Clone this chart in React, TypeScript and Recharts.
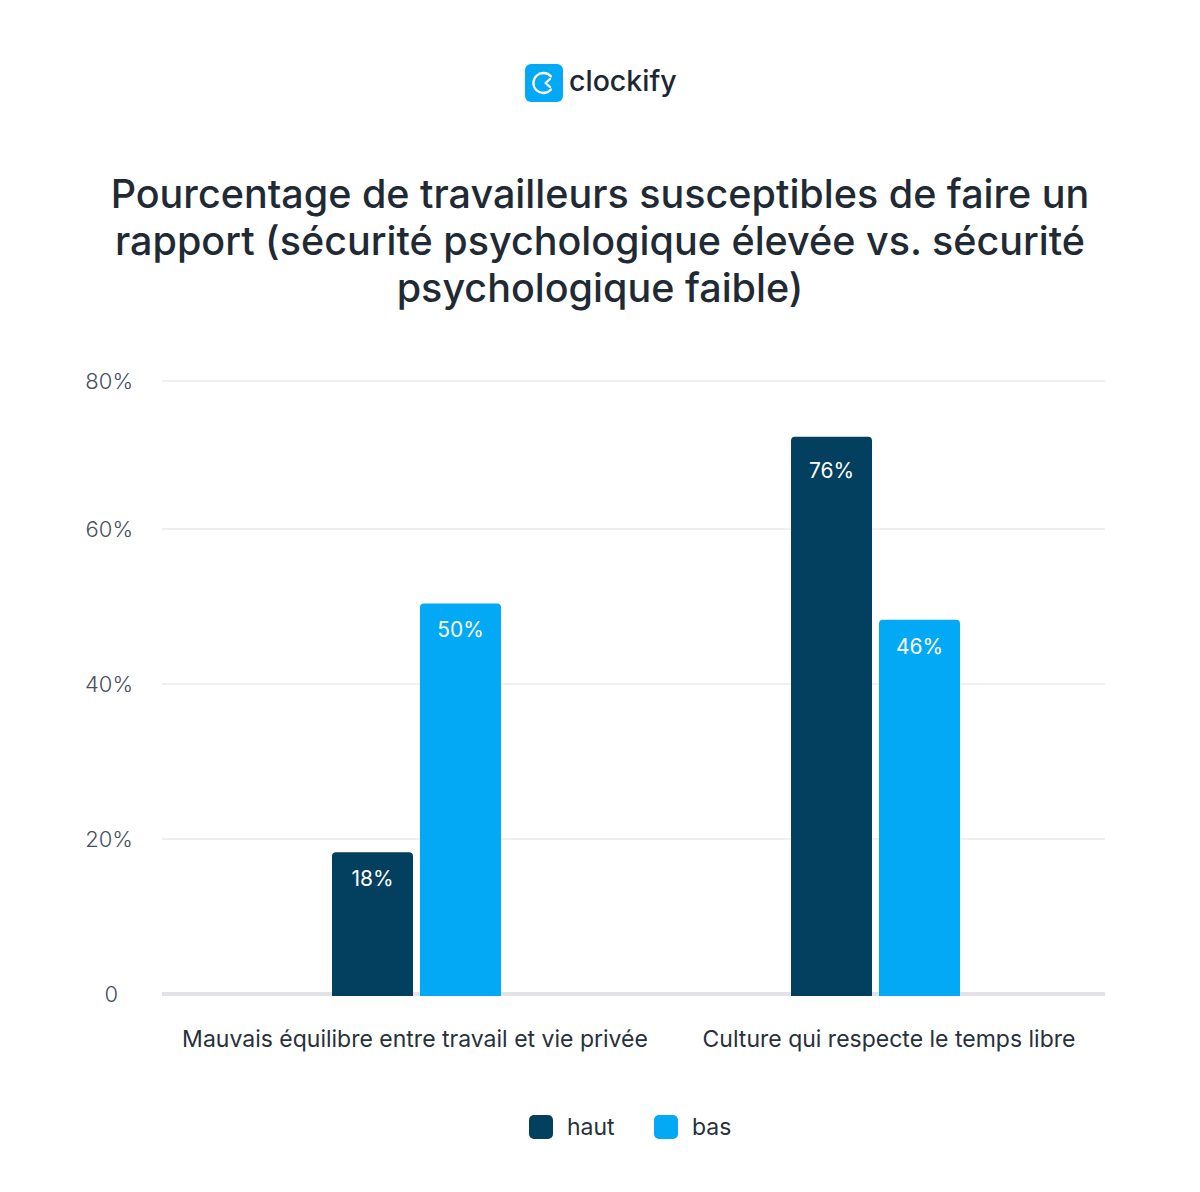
import { BarChart, Bar, XAxis, YAxis, CartesianGrid, LabelList, Legend, Rectangle } from "recharts"

const titleLines = [
  "Pourcentage de travailleurs susceptibles de faire un",
  "rapport (sécurité psychologique élevée vs. sécurité",
  "psychologique faible)",
]
const categories = ["Mauvais équilibre entre travail et vie privée", "Culture qui respecte le temps libre"]
// bar heights as drawn in the picture, the printed labels don't always agree with them
const hautValues = [18.3, 71.9]
const basValues = [50.4, 48.3]
const hautLabels = ["18%", "76%"]
const basLabels = ["50%", "46%"]
// the top gridline sits a bit lower than a linear 80 would
const yTicks = [0, 20, 40, 60, 79.1]
const yTickLabels = ["0", "20%", "40%", "60%", "80%"]

const data = categories.map((category, i) => ({
  category,
  haut: hautValues[i],
  bas: basValues[i],
  hautLabel: hautLabels[i],
  basLabel: basLabels[i],
}))

const FONT = "Inter, sans-serif"
const DARK = "#033f5f"
const BLUE = "#03a9f4"

// the grid sits under the bars, so the thick baseline is drawn as its bottom line
const GridLine = ({ x1, x2, y1, y2, y, height }: any) => {
  const isBase = Math.abs(y1 - (y + height)) < 1
  return (
    <line
      x1={x1}
      x2={x2}
      y1={y1}
      y2={y2}
      stroke={isBase ? "#e2e3e6" : "#e9ebee"}
      strokeWidth={isBase ? 4 : 1.5}
    />
  )
}

// bars run through the thick baseline
const BarShape = (props: any) => (
  <Rectangle {...props} height={props.height + 2} radius={[4, 4, 0, 0]} />
)

const BarLabel = ({ x, y, width, value }: any) => (
  <text
    x={x + width / 2}
    y={y + (value === "76%" ? 33.5 : 26.5)}
    textAnchor="middle"
    dominantBaseline="central"
    fontFamily={FONT}
    fontSize={21}
    fontWeight={400}
    fill="#fff"
  >
    {value}
  </text>
)

const CategoryTick = ({ x, y, payload, index }: any) => (
  <text
    x={x + (index === 1 ? 13.5 : -1.5)}
    y={y}
    dy={45}
    textAnchor="middle"
    fontFamily={FONT}
    fontSize={23}
    fill="#27313b"
  >
    {payload.value}
  </text>
)

const ValueTick = ({ x, y, index }: any) => (
  <text
    x={x - (index === 0 ? 15 : 0)}
    y={y}
    textAnchor="end"
    dominantBaseline="central"
    fontFamily={FONT}
    fontSize={22}
    fontWeight={300}
    fill="#454f60"
  >
    {yTickLabels[index]}
  </text>
)

const LegendContent = ({ payload }: any) => (
  <div style={{ position: "relative", height: 60, fontFamily: FONT, fontSize: 23, color: "#27313b" }}>
    {(payload || []).map((p: any, i: number) => (
      <div
        key={p.value}
        style={{
          position: "absolute",
          left: i === 0 ? 529 : 654,
          top: 18,
          display: "flex",
          alignItems: "center",
          height: 24,
        }}
      >
        <span style={{ width: 24, height: 24, borderRadius: 5, background: p.color, marginRight: 14 }} />
        <span>{p.value}</span>
      </div>
    ))}
  </div>
)

export default function App() {
  return (
    <div style={{ position: "absolute", left: 0, top: 0, width: 1200, height: 1192, background: "#fff" }}>
      <div style={{ position: "absolute", left: 525, top: 64, height: 38, display: "flex", alignItems: "center" }}>
        <svg width={38} height={38} viewBox="0 0 38 38">
          <rect width={38} height={38} rx={6} fill={BLUE} />
          <path
            d="M26 12.5 A10 10 0 1 0 26 25.5"
            fill="none"
            stroke="#fff"
            strokeWidth={2.3}
            strokeLinecap="round"
          />
          <path
            d="M25 15 L20.5 19 L25 23"
            fill="none"
            stroke="#fff"
            strokeWidth={2.3}
            strokeLinecap="round"
            strokeLinejoin="round"
          />
        </svg>
        <span
          style={{
            marginLeft: 6,
            marginTop: -5,
            fontFamily: FONT,
            fontSize: 28.5,
            fontWeight: 500,
            color: "#1c2733",
          }}
        >
          clockify
        </span>
      </div>

      {titleLines.map((line, i) => (
        <div
          key={line}
          style={{
            position: "absolute",
            left: 0,
            width: 1200,
            top: 171 + i * 47,
            lineHeight: "47px",
            textAlign: "center",
            fontFamily: FONT,
            fontSize: 39.5,
            fontWeight: 500,
            color: "#1f2a35",
          }}
        >
          {line}
        </div>
      ))}

      <div style={{ position: "absolute", left: 0, top: 0 }}>
        <BarChart
          width={1200}
          height={1192}
          data={data}
          barSize={81}
          barGap={7}
          margin={{ top: 381, right: 95, bottom: 35, left: 0 }}
        >
          <CartesianGrid vertical={false} horizontal={GridLine} />
          <XAxis
            dataKey="category"
            height={103}
            padding={{ left: 25, right: 0 }}
            axisLine={false}
            tickLine={false}
            tick={CategoryTick}
            interval={0}
          />
          <YAxis
            width={162}
            domain={[0, 79.1]}
            ticks={yTicks}
            interval={0}
            axisLine={false}
            tickLine={false}
            tickMargin={23}
            tick={ValueTick}
          />
          <Legend height={60} content={LegendContent} itemSorter={null} />
          <Bar dataKey="haut" name="haut" fill={DARK} shape={BarShape} isAnimationActive={false}>
            <LabelList dataKey="hautLabel" content={BarLabel} />
          </Bar>
          <Bar dataKey="bas" name="bas" fill={BLUE} shape={BarShape} isAnimationActive={false}>
            <LabelList dataKey="basLabel" content={BarLabel} />
          </Bar>
        </BarChart>
      </div>
    </div>
  )
}
